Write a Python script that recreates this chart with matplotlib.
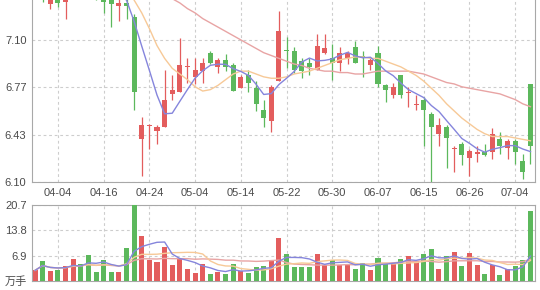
import numpy as np
import pandas as pd
import matplotlib
matplotlib.use("Agg")
import matplotlib.pyplot as plt

plt.rcParams['font.family'] = ['Liberation Sans', 'Noto Sans CJK SC', 'DejaVu Sans']

# trading days shown (2018), one per bar
dates = ["03-30", "04-02", "04-03", "04-04", "04-09", "04-10", "04-11", "04-12", "04-13",
         "04-16", "04-17", "04-18", "04-19", "04-20", "04-23", "04-24", "04-25", "04-26",
         "04-27", "05-02", "05-03", "05-04", "05-07", "05-08", "05-09", "05-10", "05-11",
         "05-14", "05-15", "05-16", "05-17", "05-18", "05-21", "05-22", "05-23", "05-24",
         "05-25", "05-28", "05-29", "05-30", "05-31", "06-01", "06-04", "06-05", "06-06",
         "06-07", "06-08", "06-11", "06-12", "06-13", "06-14", "06-15", "06-19", "06-20",
         "06-21", "06-22", "06-25", "06-26", "06-27", "06-28", "06-29", "07-02", "07-03",
         "07-04", "07-05", "07-06"]

opens = [7.62, 7.80, 7.35, 7.55, 7.37, 7.62, 7.92, 7.78, 7.58, 7.50, 7.42, 7.34, 7.36, 7.26,
         6.40, 6.495, 6.46, 6.49, 6.72, 6.73, 6.91, 6.84, 6.88, 7.01, 6.91, 6.96, 6.92, 6.76,
         6.85, 6.76, 6.61, 6.53, 6.81, 7.025, 7.02, 6.95, 6.94, 6.89, 7.01, 6.97, 6.94, 6.97,
         7.05, 6.99, 6.92, 7.01, 6.78, 6.71, 6.85, 6.725, 6.645, 6.68, 6.58, 6.44, 6.49, 6.335,
         6.37, 6.27, 6.30, 6.31, 6.31, 6.40, 6.34, 6.39, 6.25, 6.79]
highs = [7.85, 7.86, 7.50, 7.60, 7.70, 7.95, 7.98, 7.82, 7.62, 7.52, 7.45, 7.45, 7.42, 7.28,
         6.56, 6.51, 6.50, 6.89, 6.85, 7.11, 6.97, 6.97, 6.97, 7.02, 6.97, 7.00, 6.94, 6.85,
         6.89, 6.81, 6.68, 6.78, 7.30, 7.12, 7.05, 6.97, 6.97, 7.14, 7.14, 7.07, 7.05, 7.02,
         7.09, 7.02, 6.97, 7.06, 6.79, 6.80, 6.85, 6.77, 6.71, 6.70, 6.59, 6.55, 6.50, 6.35,
         6.38, 6.33, 6.35, 6.37, 6.48, 6.45, 6.40, 6.40, 6.30, 6.79]
lows = [7.58, 7.37, 7.32, 7.335, 7.25, 7.55, 7.70, 7.50, 7.38, 7.29, 7.19, 7.23, 7.25, 6.61,
        6.14, 6.33, 6.37, 6.49, 6.68, 6.73, 6.80, 6.79, 6.80, 6.93, 6.87, 6.88, 6.74, 6.76,
        6.73, 6.60, 6.49, 6.45, 6.81, 6.90, 6.87, 6.83, 6.85, 6.89, 7.00, 6.82, 6.88, 6.93,
        6.94, 6.84, 6.89, 6.77, 6.66, 6.69, 6.69, 6.63, 6.61, 6.35, 6.10, 6.35, 6.20, 6.17,
        6.22, 6.14, 6.24, 6.28, 6.26, 6.30, 6.26, 6.23, 6.12, 6.23]
closes = [7.78, 7.52, 7.38, 7.36, 7.62, 7.90, 7.75, 7.55, 7.48, 7.37, 7.35, 7.36, 7.34, 6.73,
          6.50, 6.50, 6.49, 6.68, 6.75, 6.92, 6.915, 6.89, 6.94, 6.94, 6.96, 6.91, 6.74, 6.84,
          6.80, 6.65, 6.55, 6.77, 7.16, 7.02, 6.89, 6.88, 6.91, 7.06, 7.04, 6.94, 7.01, 7.01,
          6.94, 6.97, 6.96, 6.79, 6.75, 6.77, 6.71, 6.73, 6.65, 6.61, 6.49, 6.50, 6.41, 6.34,
          6.29, 6.32, 6.31, 6.29, 6.44, 6.35, 6.39, 6.31, 6.17, 6.35]
# volume, 万手
volumes = [2.9, 5.5, 2.7, 3.1, 4.0, 5.9, 4.7, 7.0, 2.5, 5.8, 2.5, 2.5, 8.9, 20.7, 12.2, 5.7,
           5.2, 9.3, 4.3, 6.1, 3.2, 2.2, 4.6, 1.8, 2.5, 1.8, 4.7, 2.7, 2.2, 3.7, 4.0, 5.5, 11.6,
           7.3, 3.7, 3.7, 3.7, 7.3, 4.3, 5.8, 4.3, 4.3, 3.4, 5.0, 3.1, 6.4, 5.0, 4.7, 6.1, 6.8,
           5.5, 7.3, 8.6, 3.4, 6.8, 8.0, 4.0, 7.5, 4.3, 1.8, 4.3, 1.5, 3.4, 4.2, 5.8, 19.0]

nan = np.nan
# slower moving-average lines
ma_mid = [nan] * 10 + [7.62, 7.54, 7.46, 7.38, 7.29, 7.18, 7.06, 6.97, 6.90, 6.86, 6.82, 6.77,
                       6.74, 6.75, 6.78, 6.82, 6.86, 6.88, 6.88, 6.86, 6.84, 6.83, 6.83, 6.84,
                       6.86, 6.87, 6.88, 6.90, 6.92, 6.94, 6.96, 6.97, 6.98, 6.98, 6.97, 6.97,
                       6.95, 6.93, 6.91, 6.88, 6.85, 6.81, 6.76, 6.71, 6.65, 6.60, 6.55, 6.51,
                       6.47, 6.44, 6.42, 6.42, 6.42, 6.41, 6.40, 6.39]
ma_long = [nan] * 14 + [7.55, 7.50, 7.46, 7.42, 7.39, 7.36, 7.32, 7.29, 7.25, 7.22, 7.19, 7.16,
                        7.13, 7.10, 7.07, 7.04, 7.01, 6.99, 6.97, 6.95, 6.93, 6.92, 6.90, 6.89,
                        6.88, 6.88, 6.87, 6.87, 6.86, 6.86, 6.87, 6.88, 6.88, 6.88, 6.88, 6.88,
                        6.87, 6.86, 6.84, 6.82, 6.80, 6.79, 6.77, 6.76, 6.75, 6.74, 6.73, 6.72,
                        6.70, 6.68, 6.65, 6.63]

price_ticks = [6.10, 6.43, 6.77, 7.10]
price_top = 7.43
vol_ticks = [0, 6.9, 13.8, 20.7]

RED = '#e35d5d'
GREEN = '#5cb85c'
C_MA5 = '#8585dc'
C_MA10 = '#f7c997'
C_MA20 = '#e8a4a4'
GRID = '#cdcdcd'
SPINE = '#a8a8a8'
TXT = '#4a4a4a'

o = np.array(opens)
h = np.array(highs)
l = np.array(lows)
c = np.array(closes)
v = np.array(volumes)
x = np.arange(len(dates))
up = c >= o
colors = np.where(up, RED, GREEN)

ma5 = pd.Series(c).rolling(5).mean()
vma5 = pd.Series(v).rolling(5, min_periods=1).mean()
vma10 = pd.Series(v).rolling(10, min_periods=1).mean()
vma20 = pd.Series(v).rolling(20, min_periods=1).mean()

fig = plt.figure(figsize=(5.4, 2.9), dpi=100)
# top of the price panel lies just above the picture, as in the source crop
ax = fig.add_axes([32 / 540, 108 / 290, 503 / 540, 189 / 290])
ax2 = fig.add_axes([32 / 540, 9 / 290, 503 / 540, 76 / 290])

xt = x[3::6]
xl = [dates[i] for i in xt]

# price panel
ax.vlines(x, l, h, colors=colors, linewidth=0.9, zorder=2)
body = np.maximum(np.abs(c - o), 0.006)
ax.bar(x, body, bottom=np.minimum(o, c), width=0.66, color=colors, linewidth=0, zorder=3)
ax.plot(x, ma_long, color=C_MA20, lw=1, zorder=4)
ax.plot(x, ma_mid, color=C_MA10, lw=1, zorder=4)
ax.plot(x, ma5, color=C_MA5, lw=1, zorder=5)

ax.set_xlim(-0.4, 65.6)
ax.set_ylim(price_ticks[0], price_top)
ax.set_yticks(price_ticks)
ax.set_yticklabels(["%.2f" % t for t in price_ticks])
ax.set_xticks(xt)
ax.set_xticklabels(xl)
ax.grid(True, color=GRID, linestyle=(0, (2.5, 2.5)), linewidth=0.8, zorder=0)
ax.tick_params(length=0, labelsize=8, colors=TXT, pad=4)
for s in ['left', 'bottom', 'right']:
    ax.spines[s].set_color(SPINE)
ax.spines['top'].set_visible(False)

# volume panel
ax2.bar(x, v, width=0.66, color=colors, linewidth=0, zorder=3)
ax2.plot(x, vma20, color=C_MA20, lw=1, zorder=4)
ax2.plot(x, vma10, color=C_MA10, lw=1, zorder=4)
ax2.plot(x, vma5, color=C_MA5, lw=1, zorder=5)
ax2.set_xlim(-0.4, 65.6)
ax2.set_ylim(0, vol_ticks[-1])
ax2.set_yticks(vol_ticks)
ax2.set_yticklabels(["万手"] + ["%.1f" % t for t in vol_ticks[1:]])
ax2.set_xticks(xt)
ax2.set_xticklabels([])
ax2.grid(True, color=GRID, linestyle=(0, (2.5, 2.5)), linewidth=0.8, zorder=0)
ax2.tick_params(length=0, labelsize=8, colors=TXT, pad=4)
for s in ax2.spines.values():
    s.set_color(SPINE)

fig.savefig("out.png", dpi=100)
